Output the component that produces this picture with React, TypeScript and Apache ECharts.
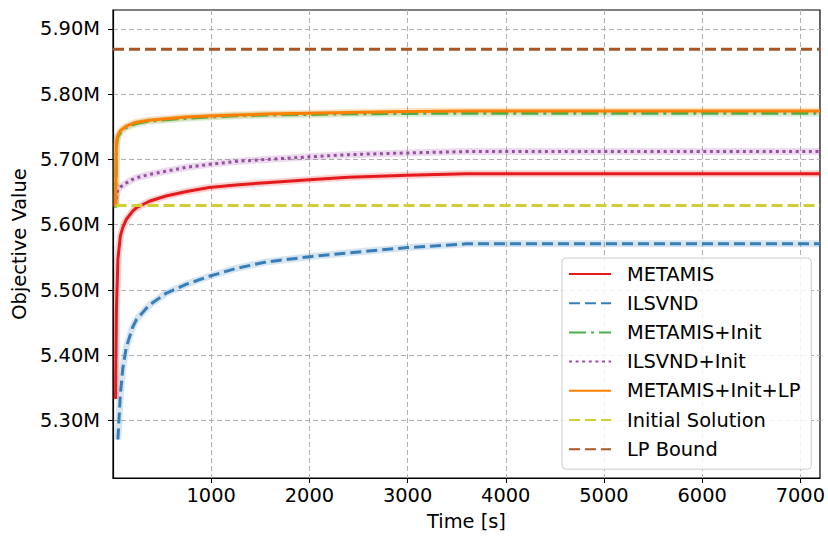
import React, { useEffect, useRef } from "react";
import * as echarts from "echarts";

// time stamps [s]
const times = [26, 35, 50, 75, 100, 135, 200, 240, 370, 540, 750, 980, 1250, 1560, 2000, 2400, 3000, 3600, 7200];

// objective values in millions
const metamis = [5.333, 5.47, 5.547, 5.583, 5.596, 5.608, 5.621, 5.626, 5.636, 5.644, 5.651, 5.657, 5.661, 5.6645, 5.669, 5.6726, 5.676, 5.678, 5.678];
const ilsvnd = [null, null, 5.271, 5.34, 5.38, 5.412, 5.443, 5.455, 5.477, 5.495, 5.509, 5.521, 5.533, 5.543, 5.551, 5.557, 5.565, 5.5707, 5.5707];
const metamisInit = [5.626, 5.72, 5.735, 5.741, 5.745, 5.749, 5.753, 5.755, 5.759, 5.761, 5.763, 5.765, 5.767, 5.768, 5.769, 5.77, 5.7705, 5.771, 5.771];
const ilsvndInit = [5.629, 5.645, 5.654, 5.658, 5.66, 5.664, 5.6695, 5.672, 5.677, 5.682, 5.688, 5.6925, 5.697, 5.7, 5.704, 5.7074, 5.71, 5.7121, 5.7121];
const metamisInitLP = [5.628, 5.728, 5.737, 5.744, 5.747, 5.751, 5.755, 5.757, 5.76, 5.7625, 5.765, 5.7665, 5.768, 5.7695, 5.771, 5.772, 5.7735, 5.7744, 5.7744];
const initialTimes = [26, 7200];
const initialSolution = [5.6294, 5.6294];
const lpTimes = [0, 7200];
const lpBound = [5.869, 5.869];

const xTicks = [1000, 2000, 3000, 4000, 5000, 6000, 7000];
const yTicks = [5.3, 5.4, 5.5, 5.6, 5.7, 5.8, 5.9];

const names = ["METAMIS", "ILSVND", "METAMIS+Init", "ILSVND+Init", "METAMIS+Init+LP", "Initial Solution", "LP Bound"];
const colors = ["#e41a1c", "#377eb8", "#4daf4a", "#984ea3", "#ff7f00", "#d0d033", "#a65628"];

const FONT = "DejaVu Sans";
const FS = 19.4;

function pairs(xs: number[], ys: (number | null)[]) {
  const out: [number, number][] = [];
  xs.forEach((x, i) => {
    const y = ys[i];
    if (y !== null && y !== undefined) out.push([x, y]);
  });
  return out;
}

export default function App() {
  const ref = useRef<HTMLDivElement>(null);
  useEffect(() => {
    if (!ref.current) return;
    const chart = echarts.init(ref.current, null, { renderer: "svg" });
    const mainData = [
      pairs(times, metamis),
      pairs(times, ilsvnd),
      pairs(times, metamisInit),
      pairs(times, ilsvndInit),
      pairs(times, metamisInitLP),
      pairs(initialTimes, initialSolution),
      pairs(lpTimes, lpBound),
    ];
    const types: any[] = ["solid", [11, 5], [17, 5, 3, 5], [3, 3.6], "solid", [11, 5], [11, 5]];
    const bandIdx = [0, 1, 2, 3, 4];
    const bands = bandIdx.map((i) => ({
      name: names[i] + " band",
      type: "line",
      data: mainData[i],
      symbol: "none",
      silent: true,
      z: 1,
      lineStyle: { color: colors[i], width: 7, opacity: 0.2 },
    }));
    const mains = names.map((n, i) => ({
      name: n,
      type: "line",
      data: mainData[i],
      symbol: "none",
      z: 2 + i,
      lineStyle: { color: colors[i], width: 3, type: types[i] },
      itemStyle: { color: colors[i] },
    }));
    chart.setOption({
      animation: false,
      grid: {
        left: 113,
        right: 6,
        top: 10,
        bottom: 60,
        show: true,
        borderColor: "#000",
        borderWidth: 1.2,
        backgroundColor: "transparent",
      },
      xAxis: {
        type: "value",
        min: 0,
        max: 7200,
        name: "Time [s]",
        nameLocation: "middle",
        nameGap: 34,
        nameTextStyle: { fontFamily: FONT, fontSize: FS, color: "#000" },
        axisLine: { show: true, lineStyle: { color: "#000", width: 1.2 } },
        axisTick: { show: true, length: 5, lineStyle: { color: "#000" }, customValues: xTicks },
        axisLabel: {
          customValues: xTicks,
          fontFamily: FONT,
          fontSize: FS,
          color: "#000",
          margin: 8,
          formatter: (v: number) => String(v),
        },
        splitLine: { show: true, lineStyle: { color: "#b0b0b0", type: [5, 3], width: 1 } },
      },
      yAxis: {
        type: "value",
        min: 5.212,
        max: 5.929,
        name: "Objective Value",
        nameLocation: "middle",
        nameGap: 82,
        nameTextStyle: { fontFamily: FONT, fontSize: FS, color: "#000" },
        axisLine: { show: true, lineStyle: { color: "#000", width: 1.2 } },
        axisTick: { show: true, length: 5, lineStyle: { color: "#000" }, customValues: yTicks },
        axisLabel: {
          customValues: yTicks,
          fontFamily: FONT,
          fontSize: FS,
          color: "#000",
          margin: 13,
          formatter: (v: number) => v.toFixed(2) + "M",
        },
        splitLine: { show: true, lineStyle: { color: "#b0b0b0", type: [5, 3], width: 1 } },
      },
      legend: {
        data: names,
        orient: "vertical",
        left: 562,
        top: 258,
        itemWidth: 42,
        itemHeight: 20,
        itemGap: 9.2,
        padding: [6, 11, 10, 6],
        itemStyle: { opacity: 0 },
        backgroundColor: "rgba(255,255,255,0.85)",
        borderColor: "#cccccc",
        borderWidth: 1,
        borderRadius: 4,
        textStyle: { fontFamily: FONT, fontSize: FS, lineHeight: 20, color: "#000", padding: [0, 0, 0, 11] },
        selectedMode: false,
      },
      series: [...bands, ...mains],
    });
    return () => chart.dispose();
  }, []);
  return (
    <div
      ref={ref}
      style={{ position: "fixed", left: 0, top: 0, width: 828, height: 538, background: "#fff" }}
    />
  );
}
